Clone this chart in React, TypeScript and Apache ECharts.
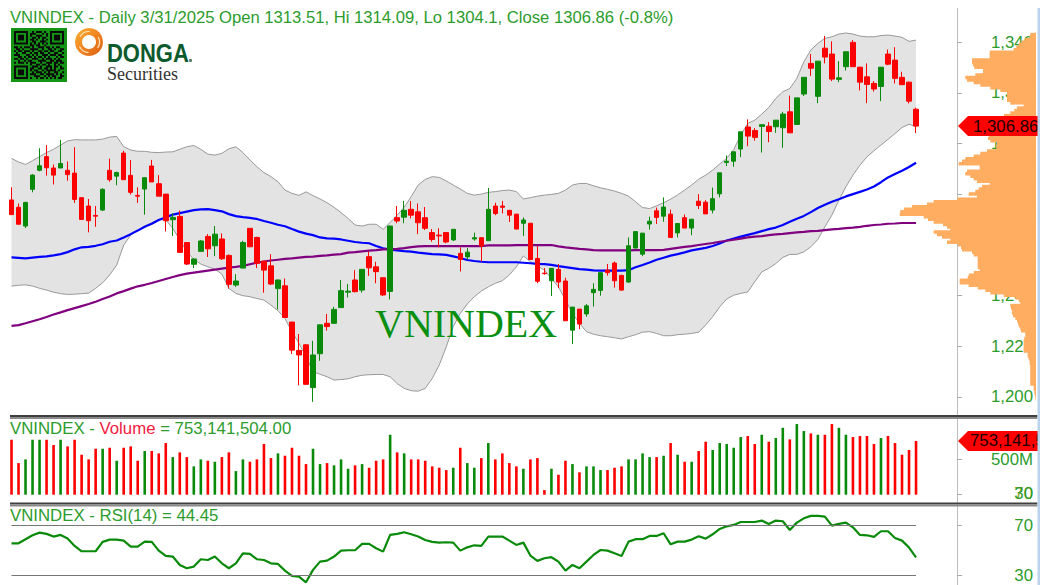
import React, { useEffect, useRef } from "react";
import * as echarts from "echarts";

const slotCount = 135;
const categories = Array.from({ length: slotCount }, (_, i) => String(i));

const opens = [
  1277.7, 1274.8, 1267.4, 1281.9, 1289.4, 1294.8, 1290.3, 1290.3, 1289.4, 1288.3,
  1278.6, 1275.3, 1271.6, 1273.7, 1289.4, 1287.1, 1296.2, 1287.4, 1279.5, 1282.0,
  1291.1, 1284.1, 1280.0, 1269.9, 1271.2, 1260.9, 1252.3, 1257.4, 1263.3, 1259.6,
  1262.3, 1255.8, 1244.1, 1250.8, 1266.5, 1262.9, 1253.5, 1251.7, 1242.7, 1243.8,
  1229.5, 1218.3, 1220.5, 1203.6, 1217.0, 1229.0, 1229.0, 1235.2, 1241.3, 1246.1,
  1242.1, 1255.3, 1251.3, 1247.0, 1241.6, 1270.7, 1270.9, 1274.0, 1273.0, 1270.7,
  1264.8, 1263.8, 1264.8, 1261.9, 1256.6, 1255.2, 1262.3, 1262.8, 1261.6, 1275.3,
  1275.3, 1273.6, 1272.1, 1268.5, 1268.5, 1254.6, 1248.8, 1245.8, 1250.3, 1245.7,
  1226.3, 1234.6, 1232.7, 1241.1, 1242.0, 1250.0, 1252.8, 1247.9, 1245.3, 1258.7,
  1256.3, 1268.2, 1273.4, 1271.3, 1272.1, 1264.7, 1270.7, 1266.6, 1277.2, 1276.8,
  1273.7, 1280.1, 1292.5, 1293.0, 1297.8, 1306.5, 1305.1, 1306.7, 1306.8, 1306.6,
  1306.2, 1312.5, 1307.5, 1319.5, 1331.6, 1318.6, 1337.6, 1335.3, 1325.3, 1330.3,
  1339.9, 1330.1, 1326.3, 1323.7, 1322.5, 1335.3, 1332.9, 1326.1, 1324.2, 1313.51,
];
const closes = [
  1271.9, 1268.1, 1276.7, 1287.5, 1291.2, 1290.4, 1287.5, 1292.1, 1287.7, 1277.9,
  1270.0, 1269.5, 1271.3, 1281.9, 1285.7, 1288.5, 1285.7, 1280.7, 1279.2, 1286.5,
  1284.8, 1279.2, 1269.5, 1270.8, 1257.0, 1252.4, 1254.4, 1261.5, 1258.4, 1264.2,
  1254.5, 1244.4, 1245.7, 1260.9, 1259.2, 1252.7, 1250.0, 1244.5, 1246.1, 1231.3,
  1218.4, 1216.5, 1204.9, 1216.5, 1228.4, 1227.7, 1234.5, 1241.9, 1241.7, 1241.5,
  1250.3, 1250.9, 1249.4, 1240.2, 1267.4, 1269.4, 1273.6, 1271.7, 1268.7, 1266.5,
  1262.1, 1263.5, 1261.1, 1266.1, 1254.2, 1257.1, 1262.8, 1259.5, 1274.0, 1272.3,
  1274.8, 1271.7, 1266.2, 1269.8, 1254.2, 1245.6, 1248.6, 1250.7, 1245.3, 1230.0,
  1235.4, 1228.7, 1235.9, 1242.4, 1249.0, 1249.0, 1245.8, 1242.1, 1259.6, 1265.2,
  1264.6, 1269.3, 1270.8, 1274.9, 1262.9, 1268.4, 1266.6, 1270.1, 1275.5, 1272.2,
  1278.2, 1288.4, 1293.0, 1296.7, 1304.6, 1302.9, 1302.4, 1307.4, 1304.7, 1309.2,
  1311.6, 1304.2, 1318.0, 1326.1, 1329.7, 1332.5, 1334.1, 1325.4, 1325.9, 1336.2,
  1330.3, 1324.2, 1323.3, 1321.5, 1330.1, 1331.3, 1325.7, 1323.2, 1316.7, 1306.86,
];
const highs = [
  1282.7, 1276.3, 1277.0, 1287.9, 1298.1, 1299.4, 1291.7, 1301.4, 1292.9, 1298.5,
  1278.6, 1278.1, 1275.3, 1282.3, 1294.0, 1288.9, 1297.1, 1293.5, 1282.7, 1286.6,
  1293.5, 1287.5, 1280.0, 1272.4, 1273.5, 1260.9, 1254.6, 1261.9, 1264.2, 1267.4,
  1264.5, 1256.2, 1248.4, 1261.6, 1266.5, 1263.2, 1253.7, 1256.3, 1246.3, 1246.7,
  1229.5, 1224.8, 1220.8, 1222.1, 1228.4, 1232.7, 1235.5, 1246.1, 1244.5, 1250.0,
  1250.3, 1257.3, 1253.3, 1247.0, 1267.5, 1275.3, 1277.3, 1277.3, 1276.3, 1274.9,
  1266.2, 1266.5, 1264.8, 1266.1, 1259.0, 1258.7, 1264.8, 1262.9, 1282.4, 1276.6,
  1277.3, 1273.7, 1272.1, 1270.8, 1268.5, 1259.5, 1250.8, 1250.8, 1252.4, 1247.0,
  1235.4, 1234.6, 1236.6, 1244.8, 1249.0, 1252.4, 1253.4, 1248.2, 1262.9, 1265.2,
  1264.7, 1271.1, 1274.7, 1278.7, 1273.9, 1268.4, 1272.0, 1270.1, 1280.0, 1277.6,
  1282.6, 1288.4, 1295.3, 1296.7, 1304.6, 1309.5, 1306.1, 1307.4, 1308.4, 1309.2,
  1312.5, 1318.9, 1318.0, 1326.2, 1335.3, 1332.5, 1342.4, 1340.3, 1332.5, 1336.2,
  1340.8, 1330.3, 1331.6, 1324.6, 1330.1, 1337.1, 1338.0, 1328.3, 1324.4, 1314.09,
];
const lows = [
  1271.9, 1268.1, 1266.6, 1280.7, 1289.0, 1287.3, 1283.8, 1290.3, 1285.3, 1276.5,
  1270.0, 1264.9, 1267.1, 1273.3, 1284.9, 1283.5, 1285.7, 1279.8, 1276.5, 1271.9,
  1284.8, 1279.2, 1265.3, 1263.5, 1257.0, 1252.0, 1250.8, 1257.4, 1255.2, 1255.5,
  1254.0, 1242.7, 1243.4, 1250.8, 1259.2, 1250.8, 1241.1, 1244.1, 1234.5, 1231.3,
  1216.9, 1204.5, 1204.9, 1198.0, 1214.2, 1226.1, 1229.0, 1235.2, 1239.2, 1241.2,
  1241.1, 1247.7, 1244.8, 1239.8, 1238.4, 1268.5, 1268.5, 1270.4, 1264.2, 1265.8,
  1261.2, 1259.0, 1260.6, 1261.5, 1249.5, 1254.2, 1261.6, 1253.4, 1261.6, 1271.7,
  1272.4, 1269.0, 1266.2, 1263.5, 1254.0, 1244.8, 1248.2, 1239.8, 1242.9, 1230.0,
  1220.8, 1226.7, 1231.6, 1235.6, 1239.9, 1247.8, 1243.1, 1241.9, 1245.0, 1258.7,
  1255.5, 1266.0, 1268.2, 1269.1, 1262.9, 1262.9, 1266.6, 1263.8, 1274.1, 1272.2,
  1272.4, 1278.7, 1291.1, 1290.8, 1294.6, 1298.9, 1301.1, 1296.4, 1300.5, 1304.2,
  1298.3, 1304.2, 1307.5, 1318.7, 1326.6, 1315.9, 1331.6, 1324.6, 1324.2, 1328.8,
  1330.3, 1320.9, 1315.9, 1320.5, 1316.7, 1330.9, 1323.7, 1323.2, 1315.8, 1304.1,
];
const volumes = [
  770, 443, 495, 770, 770, 770, 696, 770, 677, 770,
  560, 495, 644, 644, 658, 476, 658, 677, 476, 612,
  612, 579, 724, 527, 593, 527, 397, 495, 476, 462,
  527, 593, 331, 495, 462, 495, 710, 513, 579, 546,
  658, 546, 429, 644, 429, 443, 411, 495, 364, 411,
  429, 378, 476, 495, 840, 593, 579, 495, 495, 476,
  397, 378, 345, 378, 658, 443, 378, 513, 724, 495,
  579, 443, 397, 364, 495, 513, 65, 364, 280, 476,
  429, 313, 397, 397, 345, 345, 378, 397, 495, 495,
  579, 527, 527, 546, 724, 560, 462, 462, 612, 742,
  626, 724, 710, 658, 808, 822, 710, 840, 742, 794,
  938, 775, 990, 892, 859, 840, 840, 990, 938, 840,
  808, 822, 822, 710, 794, 822, 724, 560, 626, 753.14,
];
const bandUpper = [
  1294.1, 1292.7, 1291.7, 1293.2, 1294.8, 1296.4, 1297.7, 1299.4, 1301.0, 1301.5,
  1301.4, 1301.4, 1301.4, 1301.7, 1302.5, 1302.8, 1298.7, 1297.4, 1296.9, 1296.9,
  1296.5, 1296.4, 1296.6, 1296.7, 1297.7, 1298.7, 1299.2, 1297.7, 1295.8, 1295.4,
  1296.1, 1297.9, 1298.7, 1296.4, 1293.5, 1290.8, 1288.5, 1286.9, 1284.9, 1281.6,
  1280.3, 1279.5, 1280.9, 1279.4, 1278.1, 1276.6, 1274.8, 1272.7, 1270.4, 1267.8,
  1267.4, 1268.1, 1268.1, 1266.1, 1268.8, 1271.7, 1274.8, 1279.0, 1283.6, 1285.8,
  1286.9, 1286.6, 1285.2, 1283.6, 1282.0, 1280.3, 1279.6, 1280.0, 1280.7, 1281.0,
  1281.4, 1281.6, 1281.0, 1278.1, 1278.6, 1279.2, 1279.6, 1279.9, 1280.3, 1281.6,
  1283.6, 1284.2, 1284.2, 1283.3, 1282.5, 1281.9, 1281.2, 1280.3, 1279.2, 1277.0,
  1274.7, 1274.3, 1275.4, 1276.6, 1278.0, 1279.7, 1281.6, 1283.6, 1285.9, 1287.5,
  1289.5, 1291.9, 1294.1, 1297.6, 1303.3, 1307.9, 1309.2, 1311.6, 1314.2, 1317.8,
  1320.4, 1321.7, 1325.7, 1332.2, 1336.9, 1339.5, 1341.5, 1342.1, 1343.2, 1343.6,
  1343.2, 1342.4, 1342.1, 1342.1, 1342.6, 1342.8, 1342.4, 1341.9, 1340.3, 1340.8,
];
const bandLower = [
  1243.7, 1244.0, 1244.2, 1243.7, 1242.8, 1242.1, 1241.3, 1240.7, 1240.4, 1240.5,
  1240.7, 1240.9, 1242.8, 1245.0, 1248.1, 1252.0, 1259.9, 1263.8, 1265.8, 1267.4,
  1268.7, 1270.0, 1269.8, 1266.5, 1261.9, 1257.3, 1254.2, 1252.4, 1251.3, 1250.4,
  1248.4, 1242.8, 1240.8, 1239.9, 1239.5, 1238.8, 1238.2, 1236.2, 1234.0, 1230.9,
  1225.7, 1221.1, 1215.8, 1209.9, 1208.9, 1207.9, 1206.6, 1206.8, 1207.1, 1207.9,
  1208.5, 1208.7, 1208.8, 1208.8, 1207.9, 1205.2, 1203.3, 1202.4, 1202.2, 1203.3,
  1207.2, 1212.5, 1219.7, 1227.7, 1232.9, 1236.6, 1239.5, 1241.7, 1243.4, 1244.8,
  1245.8, 1248.1, 1251.3, 1255.6, 1253.3, 1251.6, 1250.0, 1246.7, 1243.4, 1238.2,
  1232.9, 1229.0, 1225.7, 1224.7, 1224.1, 1223.7, 1223.3, 1222.8, 1223.7, 1224.5,
  1225.5, 1225.7, 1225.0, 1224.1, 1224.1, 1224.5, 1224.7, 1225.0, 1225.5, 1228.3,
  1231.6, 1235.5, 1238.6, 1240.1, 1240.8, 1241.4, 1245.4, 1249.3, 1250.7, 1252.6,
  1255.0, 1256.2, 1256.2, 1257.2, 1259.2, 1262.1, 1267.1, 1271.7, 1277.6, 1282.9,
  1287.5, 1291.4, 1294.7, 1297.1, 1299.4, 1301.6, 1303.9, 1306.3, 1307.6, 1306.6,
];
const maFast = [
  1255.0, 1254.8, 1254.6, 1254.9, 1255.2, 1255.4, 1255.8, 1256.3, 1257.1, 1258.2,
  1259.0, 1259.2, 1259.6, 1260.2, 1261.2, 1261.7, 1262.9, 1264.2, 1265.6, 1267.1,
  1268.3, 1269.8, 1270.9, 1271.9, 1272.5, 1273.1, 1273.7, 1274.0, 1274.1, 1273.7,
  1273.2, 1272.1, 1271.3, 1270.9, 1270.6, 1270.2, 1269.4, 1268.7, 1267.9, 1267.3,
  1266.2, 1265.2, 1264.4, 1263.8, 1262.9, 1262.5, 1262.4, 1262.1, 1261.6, 1261.1,
  1260.8, 1260.6, 1259.5, 1258.6, 1258.1, 1257.8, 1257.5, 1257.3, 1256.9, 1256.6,
  1256.3, 1256.2, 1256.0, 1255.4, 1254.8, 1254.0, 1253.6, 1253.3, 1253.1, 1253.1,
  1253.1, 1253.1, 1253.1, 1252.9, 1252.7, 1252.5, 1252.4, 1252.1, 1251.6, 1251.2,
  1250.8, 1250.4, 1250.2, 1249.9, 1249.8, 1249.8, 1249.8, 1249.8, 1250.0, 1251.1,
  1252.0, 1253.0, 1254.1, 1254.9, 1255.7, 1256.3, 1257.0, 1257.8, 1258.3, 1258.8,
  1259.5, 1260.5, 1261.7, 1262.5, 1263.2, 1263.9, 1264.6, 1265.4, 1266.2, 1266.8,
  1267.8, 1269.1, 1270.3, 1271.4, 1272.9, 1274.5, 1275.8, 1277.0, 1278.0, 1279.1,
  1280.0, 1280.9, 1281.8, 1283.0, 1284.7, 1286.6, 1287.9, 1289.2, 1290.7, 1292.4,
];
const maSlow = [
  1228.0, 1228.3, 1229.0, 1229.8, 1230.6, 1231.5, 1232.5, 1233.3, 1234.2, 1235.0,
  1235.8, 1236.6, 1237.5, 1238.6, 1239.6, 1240.8, 1241.7, 1242.7, 1243.6, 1244.2,
  1244.9, 1245.7, 1246.5, 1247.3, 1248.0, 1248.6, 1249.0, 1249.4, 1249.8, 1250.2,
  1250.6, 1251.0, 1251.3, 1251.7, 1252.3, 1252.9, 1253.4, 1253.8, 1254.1, 1254.4,
  1254.6, 1254.9, 1255.2, 1255.3, 1255.6, 1255.8, 1256.1, 1256.3, 1256.9, 1257.1,
  1257.4, 1257.7, 1257.9, 1258.2, 1258.3, 1258.4, 1258.7, 1259.1, 1259.4, 1259.5,
  1259.5, 1259.5, 1259.5, 1259.5, 1259.5, 1259.5, 1259.5, 1259.5, 1259.8, 1259.8,
  1259.8, 1259.8, 1259.9, 1259.9, 1259.9, 1259.9, 1259.9, 1259.9, 1259.4, 1259.0,
  1258.7, 1258.4, 1258.2, 1257.9, 1257.8, 1257.8, 1257.8, 1257.8, 1257.8, 1257.9,
  1257.9, 1257.9, 1257.9, 1258.0, 1258.4, 1258.8, 1259.2, 1259.5, 1259.9, 1260.3,
  1260.7, 1261.2, 1261.6, 1262.0, 1262.4, 1262.9, 1263.2, 1263.4, 1263.8, 1264.1,
  1264.3, 1264.6, 1264.9, 1265.1, 1265.4, 1265.5, 1265.8, 1266.1, 1266.3, 1266.6,
  1266.8, 1267.1, 1267.5, 1267.8, 1268.0, 1268.3, 1268.4, 1268.6, 1268.6, 1268.6,
];
const rsi = [
  55.6, 55.6, 58.8, 61.9, 64.0, 63.0, 60.9, 62.2, 59.3, 53.5,
  49.3, 49.3, 49.3, 56.7, 58.5, 58.5, 57.7, 53.0, 53.0, 56.9,
  56.7, 49.8, 45.6, 45.1, 38.5, 35.9, 37.2, 43.0, 42.4, 45.1,
  39.8, 35.9, 39.8, 47.7, 47.2, 43.0, 42.4, 39.8, 39.3, 34.0,
  29.8, 29.3, 24.8, 34.6, 41.1, 41.9, 45.1, 49.8, 50.1, 50.1,
  55.1, 55.1, 51.7, 49.0, 62.2, 63.0, 64.3, 62.7, 60.9, 58.2,
  56.7, 56.1, 56.4, 56.1, 49.8, 52.4, 54.0, 53.5, 60.9, 60.9,
  60.9, 57.7, 54.3, 56.1, 45.9, 41.7, 43.8, 44.6, 41.1, 34.0,
  38.5, 35.9, 41.1, 46.4, 50.3, 49.8, 47.7, 45.6, 56.9, 58.8,
  58.8, 61.4, 61.4, 63.5, 54.8, 56.9, 56.9, 58.5, 61.1, 59.3,
  62.7, 66.9, 69.0, 70.1, 72.4, 72.4, 72.4, 73.5, 70.9, 73.5,
  73.0, 66.1, 71.9, 75.3, 77.2, 77.2, 76.6, 69.5, 70.9, 71.9,
  68.2, 62.2, 61.9, 60.6, 65.1, 65.1, 59.8, 57.7, 52.2, 44.45,
];
const profileFirstLevel = 1199;
const profileWidths = [
  0.3, 0.7, 1.3, 1.7, 2.3, 2.3, 5.7, 5.7, 5.7, 5.7,
  5.7, 5.7, 5.7, 5.7, 6.3, 6.3, 7.3, 8.3, 8.3, 12.3,
  12.3, 12.3, 12.3, 12.3, 11.7, 10.7, 10.7, 15, 15.7, 17.3,
  18, 19, 20.7, 23, 24, 24, 25, 25.7, 15.7, 17.3,
  20.7, 32.3, 45.7, 50.7, 58.3, 67.3, 76.3, 76.3, 68.3, 67.3,
  62.3, 56.3, 58.3, 58.3, 58.3, 58.3, 58.3, 62.3, 64, 74,
  75, 78, 89, 85.7, 94, 99, 102.3, 85.7, 89, 93,
  102.3, 108, 112.3, 136.3, 135.7, 132, 124, 109, 102.3, 79,
  59, 67.3, 60.7, 57.3, 54, 46.3, 59, 62.3, 65.7, 70.7,
  69, 56.3, 56.3, 77.3, 74, 70.7, 62.3, 55.7, 49, 39.7,
  39.7, 39, 45.7, 48, 47, 46, 44, 42, 40, 38,
  36, 34, 32, 25.7, 21.7, 19, 12.3, 25.7, 29, 29,
  29, 29, 35.7, 45.7, 55.7, 62.3, 69, 70.7, 60.7, 53,
  53, 61.7, 63, 64, 64, 46.3, 46.3, 46.3, 22.3, 19.7,
  17.3, 14.7, 10.7, 6.3, 5.7,
];
const profileLevels = Array.from({ length: 161 }, (_, i) => String(1190 + i));
const priceTicks = [1200, 1220, 1240, 1260, 1280, 1300, 1320, 1340];
const volumeTicks = [0, 500];
const volumeLabels = [500];
const rsiTicks = [30, 70];

const titleText = "VNINDEX - Daily 3/31/2025 Open 1313.51, Hi 1314.09, Lo 1304.1, Close 1306.86 (-0.8%)";
const rsiText = "VNINDEX - RSI(14) = 44.45";
const watermark = "VNINDEX";
const closeLabel = "1,306.86";
const volumeLabel = "753,141,504.00";
const hiddenScaleLabels = ["70", "30"];

const qrRows = [
  "1111111001011101001111111",
  "1000001011100010101000001",
  "1011101010011100101011101",
  "1011101001101011001011101",
  "1011101011010010101011101",
  "1000001001100111001000001",
  "1111111010101010101111111",
  "0000000011011001000000000",
  "1101011101001110110101100",
  "0110100011110010011010011",
  "1011011101001101101100110",
  "0100110010110110010011001",
  "1110001101010011101110110",
  "0011010110101101010001011",
  "1101101001110010111010100",
  "0010010110001111001101110",
  "1011101011100100111011011",
  "0000000010011011010010100",
  "1111111001110100111011010",
  "1000001011001101101010011",
  "1011101010110010111110100",
  "1011101001011101010011001",
  "1011101011100110111101010",
  "1000001000111001010110011",
  "1111111010010110101010110",
];

const RED = "#ff0000";
const GREEN = "#0a8a0a";
const TEXT_GREEN = "#2c9c2c";
const FONT = '"Liberation Sans", Arial, sans-serif';
const FONT_SIZE = 16.8;

const qrPath = qrRows
  .map((row, y) =>
    row
      .split("")
      .map((c, x) => (c === "1" ? `M${x} ${y}h1v1h-1z` : ""))
      .join("")
  )
  .join("");
echarts.graphic.registerShape("qrcode", echarts.graphic.extendPath(qrPath, {}));

const hiddenX = { type: "category", data: categories, show: false, boundaryGap: true };

function tagRenderer(text: string, textX: number) {
  return (_: any, api: any) => {
    const y = api.coord([api.value(0), api.value(1)])[1];
    return {
      type: "group",
      children: [
        {
          type: "polygon",
          shape: { points: [[958, y], [968, y - 10], [1042, y - 10], [1042, y + 10], [968, y + 10]] },
          style: { fill: RED },
        },
        {
          type: "text",
          style: {
            text,
            x: textX,
            y,
            fill: "#1a0000",
            font: `${FONT_SIZE}px ${FONT}`,
            verticalAlign: "middle",
            align: "left",
          },
        },
      ],
    };
  };
}

function swirl(startAngle: number, endAngle: number) {
  return {
    type: "arc",
    z: 7,
    shape: { cx: 89, cy: 42, r: 10.5, startAngle, endAngle },
    style: { stroke: "#ffe3b8", lineWidth: 1.2, fill: "none" },
  };
}

function buildOption() {
  const candles = closes.map((c, i) => [opens[i], c, lows[i], highs[i]]);
  const bandSpread = bandUpper.map((u, i) => +(u - bandLower[i]).toFixed(2));
  const axisLabelBase = {
    color: TEXT_GREEN,
    fontSize: FONT_SIZE,
    fontFamily: FONT,
    align: "right",
    margin: 76,
  };
  const tickBase = { show: true, length: 5, lineStyle: { color: "#aaaaaa", width: 1 } };
  const sharedGrid = { left: 8, width: 946.6 };
  const line = (name: string, data: number[], color: string, xi: number, yi: number, width = 2, extra = {}) => ({
    name,
    type: "line",
    data,
    xAxisIndex: xi,
    yAxisIndex: yi,
    symbol: "none",
    smooth: false,
    lineStyle: { color, width },
    itemStyle: { color },
    z: 2,
    silent: true,
    ...extra,
  });

  return {
    animation: false,
    backgroundColor: "#ffffff",
    tooltip: { show: false },
    legend: { show: false },
    grid: [
      { ...sharedGrid, top: 16.8, height: 405.3 },
      { ...sharedGrid, top: 416.2, height: 78.5 },
      { ...sharedGrid, top: 499.7, height: 84.87 },
      { left: 890, width: 146, top: 15.5, height: 407.8 },
    ],
    xAxis: [
      { ...hiddenX, gridIndex: 0 },
      { ...hiddenX, gridIndex: 1 },
      { ...hiddenX, gridIndex: 2 },
      { type: "value", gridIndex: 3, inverse: true, min: 0, max: 146, show: false },
    ],
    yAxis: [
      {
        type: "value",
        gridIndex: 0,
        position: "right",
        offset: 2.4,
        min: 1190,
        max: 1350,
        scale: true,
        splitLine: { show: false },
        axisLine: { show: false },
        axisTick: { ...tickBase, customValues: priceTicks },
        axisLabel: {
          ...axisLabelBase,
          customValues: priceTicks,
          formatter: (v: number) => v.toLocaleString("en-US"),
        },
      },
      {
        type: "value",
        gridIndex: 1,
        position: "right",
        offset: 2.4,
        min: 0,
        max: 1100,
        splitLine: { show: false },
        axisLine: { show: false },
        axisTick: { ...tickBase, customValues: volumeTicks },
        axisLabel: {
          ...axisLabelBase,
          customValues: volumeLabels,
          formatter: (v: number) => `${v}M`,
        },
      },
      {
        type: "value",
        gridIndex: 2,
        position: "right",
        offset: 2.4,
        min: 23,
        max: 90,
        splitLine: { show: false },
        axisLine: { show: false },
        axisTick: { ...tickBase, customValues: rsiTicks },
        axisLabel: { ...axisLabelBase, customValues: rsiTicks },
      },
      { type: "category", gridIndex: 3, data: profileLevels, show: false, boundaryGap: true },
    ],
    series: [
      line("Lower band", bandLower, "#999999", 0, 0, 1, { stack: "band", z: 1 }),
      line("Upper band", bandSpread, "#999999", 0, 0, 1, {
        stack: "band",
        z: 1,
        areaStyle: { color: "#e3e3e3", opacity: 1 },
      }),
      line("MA fast", maFast, "#0000ff", 0, 0, 2.2),
      line("MA slow", maSlow, "#800080", 0, 0, 2.2),
      {
        name: "VNINDEX",
        type: "candlestick",
        xAxisIndex: 0,
        yAxisIndex: 0,
        data: candles,
        barWidth: 5,
        z: 3,
        silent: true,
        itemStyle: { color: GREEN, color0: RED, borderColor: GREEN, borderColor0: RED, borderWidth: 1 },
      },
      {
        name: "Price profile",
        type: "bar",
        xAxisIndex: 3,
        yAxisIndex: 3,
        data: profileWidths.map((w, i) => [w, String(profileFirstLevel + i)]),
        barWidth: 3.4,
        itemStyle: { color: "#ffad60" },
        z: 5,
        silent: true,
      },
      {
        name: "Volume",
        type: "bar",
        xAxisIndex: 1,
        yAxisIndex: 1,
        data: volumes,
        barWidth: 2.6,
        z: 2,
        silent: true,
        itemStyle: {
          color: (p: any) => (closes[p.dataIndex] < opens[p.dataIndex] ? RED : GREEN),
        },
      },
      line("RSI", rsi, GREEN, 2, 2, 2.2, {
        markLine: {
          silent: true,
          symbol: "none",
          label: { show: false },
          lineStyle: { color: "#777777", width: 1.2, type: "solid" },
          data: [
            [{ coord: [0, 70] }, { coord: [129, 70] }],
            [{ coord: [0, 30] }, { coord: [129, 30] }],
          ],
        },
      }),
      {
        name: "Close tag",
        type: "custom",
        xAxisIndex: 0,
        yAxisIndex: 0,
        clip: false,
        z: 10,
        silent: true,
        data: [[129, closes[129]]],
        renderItem: tagRenderer(closeLabel, 973),
      },
      {
        name: "Volume tag",
        type: "custom",
        xAxisIndex: 1,
        yAxisIndex: 1,
        clip: false,
        z: 10,
        silent: true,
        data: [[129, volumes[129]]],
        renderItem: tagRenderer(volumeLabel, 970),
      },
    ],
    graphic: {
      elements: [
        { type: "line", z: 0, shape: { x1: 957.5, y1: 8, x2: 957.5, y2: 585 }, style: { stroke: "#bdbdbd", lineWidth: 1 } },
        {
          type: "text",
          z: 20,
          x: 10,
          y: 9,
          style: { text: titleText, fill: TEXT_GREEN, font: `16.65px ${FONT}` },
        },
        { type: "rect", z: 6, shape: { x: 11, y: 28, width: 56, height: 54 }, style: { fill: "#149414" } },
        { type: "qrcode", z: 7, x: 14, y: 31, scaleX: 2, scaleY: 1.92, style: { fill: "#0a0a0a" } },
        {
          type: "ring",
          z: 6,
          shape: { cx: 89, cy: 42, r: 14, r0: 7 },
          style: {
            fill: new echarts.graphic.LinearGradient(0, 0, 1, 1, [
              { offset: 0, color: "#f9b233" },
              { offset: 0.55, color: "#f08020" },
              { offset: 1, color: "#d95f10" },
            ]),
          },
        },
        swirl(-2.6, -1.5),
        swirl(-0.5, 0.6),
        swirl(1.6, 2.7),
        {
          type: "text",
          z: 6,
          x: 107,
          y: 41,
          scaleY: 1.15,
          style: { text: "DONGA", fill: "#0d5a2d", font: `bold 22px ${FONT}` },
        },
        { type: "circle", z: 6, shape: { cx: 190.5, cy: 60.5, r: 1.6 }, style: { fill: "#5a7a66" } },
        {
          type: "text",
          z: 6,
          x: 107,
          y: 65,
          style: { text: "Securities", fill: "#333333", font: '18px "Liberation Serif", serif' },
        },
        {
          type: "text",
          z: 6,
          x: 375,
          y: 303,
          style: { text: watermark, fill: "#0a9010", font: '40px "Liberation Serif", serif' },
        },
        { type: "rect", z: 21, shape: { x: 10, y: 415, width: 1027.5, height: 2 }, style: { fill: "#3f3f3f" } },
        { type: "rect", z: 21, shape: { x: 10, y: 417, width: 1027.5, height: 2 }, style: { fill: "#8a8a8a" } },
        {
          type: "text",
          z: 20,
          x: 10,
          y: 420,
          style: {
            text: "{g|VNINDEX - }{r|Volume}{g| = 753,141,504.00}",
            font: `${FONT_SIZE}px ${FONT}`,
            rich: {
              g: { fill: TEXT_GREEN, font: `${FONT_SIZE}px ${FONT}` },
              r: { fill: "#f22040", font: `${FONT_SIZE}px ${FONT}` },
            },
          },
        },
        {
          type: "text",
          z: 12,
          x: 1033,
          y: 493,
          style: {
            text: hiddenScaleLabels[0],
            fill: "#8a9a20",
            font: `${FONT_SIZE}px ${FONT}`,
            align: "right",
            verticalAlign: "middle",
          },
        },
        {
          type: "text",
          z: 12,
          x: 1033,
          y: 493,
          style: {
            text: hiddenScaleLabels[1],
            fill: TEXT_GREEN,
            font: `${FONT_SIZE}px ${FONT}`,
            align: "right",
            verticalAlign: "middle",
          },
        },
        { type: "rect", z: 21, shape: { x: 10, y: 502.5, width: 1027.5, height: 2 }, style: { fill: "#3f3f3f" } },
        { type: "rect", z: 21, shape: { x: 10, y: 504.5, width: 1027.5, height: 2 }, style: { fill: "#8a8a8a" } },
        {
          type: "text",
          z: 20,
          x: 10,
          y: 507,
          style: {
            text: rsiText,
            fill: TEXT_GREEN,
            font: `${FONT_SIZE}px ${FONT}`,
            backgroundColor: "#ffffff",
          },
        },
        { type: "rect", z: 30, shape: { x: 1037.5, y: 8, width: 3, height: 577 }, style: { fill: "#bcd3ec" } },
      ],
    },
  };
}

export default function App() {
  const ref = useRef<HTMLDivElement>(null);
  useEffect(() => {
    if (!ref.current) return;
    const chart = echarts.init(ref.current, undefined, { renderer: "svg" });
    chart.setOption(buildOption() as any);
    return () => chart.dispose();
  }, []);
  return <div ref={ref} style={{ position: "absolute", left: 0, top: 0, width: 1040, height: 585 }} />;
}
